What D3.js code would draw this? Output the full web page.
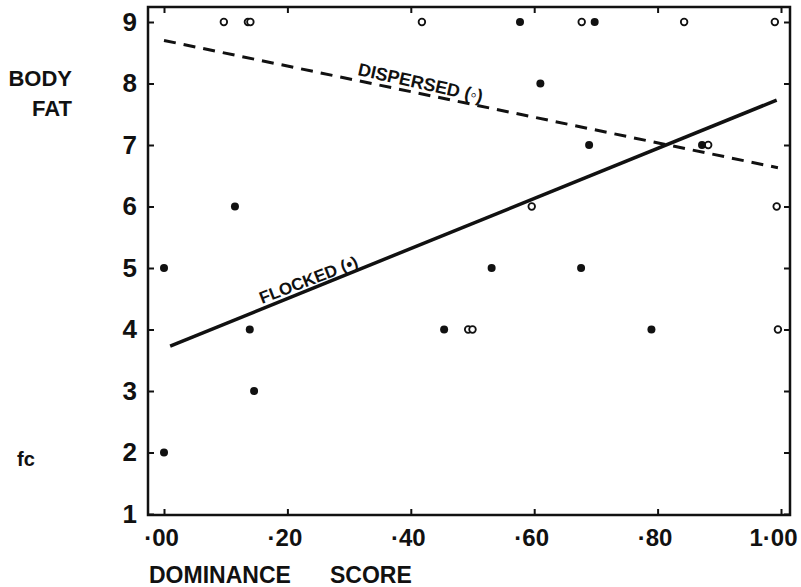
<!DOCTYPE html>
<html>
<head>
<meta charset="utf-8">
<script src="https://cdn.jsdelivr.net/npm/d3@7"></script>
<style>
  body { margin: 0; background: #fff; }
  text { font-family: "Liberation Sans", Arial, sans-serif; font-weight: bold; fill: #111; }
</style>
</head>
<body>
<div id="chart"></div>
<script>
// data
var xTicks = [0, 0.2, 0.4, 0.6, 0.8, 1.0];
var xTickLabels = ["·00", "·20", "·40", "·60", "·80", "1·00"];
var yTicks = [1, 2, 3, 4, 5, 6, 7, 8, 9];

// dispersed birds (open circles)
var dispersedX = [0.097, 0.136, 0.140, 0.418, 0.677, 0.843, 0.99, 0.882, 0.596, 0.993, 0.493, 0.500, 0.995];
var dispersedY = [9, 9, 9, 9, 9, 9, 9, 7, 6, 6, 4, 4, 4];

// flocked birds (filled circles)
var flockedX = [0.577, 0.698, 0.61, 0.689, 0.872, 0.115, 0.0, 0.531, 0.676, 0.139, 0.454, 0.79, 0.146, 0.0];
var flockedY = [9, 9, 8, 7, 7, 6, 5, 5, 5, 4, 4, 4, 3, 2];

// fitted lines, [x, y] end points
var dispersedLine = [[0.0, 8.70], [0.995, 6.63]];
var flockedLine = [[0.01, 3.73], [0.993, 7.73]];

var svgWidth = 801;
var svgHeight = 587;

var frame = { left: 148, right: 790, top: 7, bottom: 515 };

var svg = d3.select("#chart")
    .append("svg")
    .attr("width", svgWidth)
    .attr("height", svgHeight);

var x = d3.scaleLinear().domain([0, 1]).range([164, 781]);
var y = d3.scaleLinear().domain([1, 9]).range([514, 22]);

// frame
svg.append("rect")
    .attr("x", frame.left)
    .attr("y", frame.top)
    .attr("width", frame.right - frame.left)
    .attr("height", frame.bottom - frame.top)
    .attr("fill", "none")
    .attr("stroke", "#111")
    .attr("stroke-width", 2.5);

// axes with inward ticks
var bottomAxis = d3.axisBottom(x)
    .tickValues(xTicks)
    .tickFormat((d, i) => xTickLabels[i])
    .tickSize(-6)
    .tickPadding(14);

var xAxis = svg.append("g")
    .attr("transform", `translate(0, ${frame.bottom})`)
    .call(bottomAxis);

var topAxis = d3.axisTop(x).tickValues(xTicks).tickFormat("").tickSize(-6);
var xTop = svg.append("g")
    .attr("transform", `translate(0, ${frame.top})`)
    .call(topAxis);

var leftAxis = d3.axisLeft(y)
    .tickValues(yTicks)
    .tickFormat(d3.format("d"))
    .tickSize(-6)
    .tickPadding(11);

var yAxis = svg.append("g")
    .attr("transform", `translate(${frame.left}, 0)`)
    .call(leftAxis);

var rightAxis = d3.axisRight(y).tickValues(yTicks).tickFormat("").tickSize(-6);
var yRight = svg.append("g")
    .attr("transform", `translate(${frame.right}, 0)`)
    .call(rightAxis);

svg.selectAll(".domain").remove();
svg.selectAll(".tick line").attr("stroke", "#111").attr("stroke-width", 2);
xAxis.selectAll("text")
    .style("font-size", "24px")
    .attr("fill", "#111")
    .attr("dx", (d, i) => i === xTicks.length - 1 ? -8 : -3);
yAxis.selectAll("text").style("font-size", "26px").attr("fill", "#111");

// fitted lines
var line = d3.line().x(d => x(d[0])).y(d => y(d[1]));

svg.append("path")
    .datum(dispersedLine)
    .attr("d", line)
    .attr("fill", "none")
    .attr("stroke", "#111")
    .attr("stroke-width", 3)
    .attr("stroke-dasharray", "12,8");

svg.append("path")
    .datum(flockedLine)
    .attr("d", line)
    .attr("fill", "none")
    .attr("stroke", "#111")
    .attr("stroke-width", 3.5);

// points
svg.selectAll("circle.dispersed")
    .data(dispersedX)
    .enter()
    .append("circle")
    .attr("class", "dispersed")
    .attr("cx", d => x(d))
    .attr("cy", (d, i) => y(dispersedY[i]))
    .attr("r", 3.3)
    .attr("fill", "#fff")
    .attr("stroke", "#111")
    .attr("stroke-width", 1.8);

svg.selectAll("circle.flocked")
    .data(flockedX)
    .enter()
    .append("circle")
    .attr("class", "flocked")
    .attr("cx", d => x(d))
    .attr("cy", (d, i) => y(flockedY[i]))
    .attr("r", 4)
    .attr("fill", "#111");

// line labels
svg.append("text")
    .attr("transform", "translate(357, 75) rotate(12.5)")
    .style("font-size", "18px")
    .text("DISPERSED (◦)");

svg.append("text")
    .attr("transform", "translate(262, 304) rotate(-21)")
    .style("font-size", "17px")
    .text("FLOCKED (•)");

// axis titles
svg.append("text").attr("x", 72).attr("y", 86).attr("text-anchor", "end").style("font-size", "22px").text("BODY");
svg.append("text").attr("x", 72).attr("y", 116).attr("text-anchor", "end").style("font-size", "22px").text("FAT");
svg.append("text").attr("x", 17).attr("y", 466).style("font-size", "20px").text("fc");

svg.append("text").attr("x", 149).attr("y", 583).style("font-size", "23px").text("DOMINANCE");
svg.append("text").attr("x", 330).attr("y", 583).style("font-size", "23px").text("SCORE");
</script>
</body>
</html>
